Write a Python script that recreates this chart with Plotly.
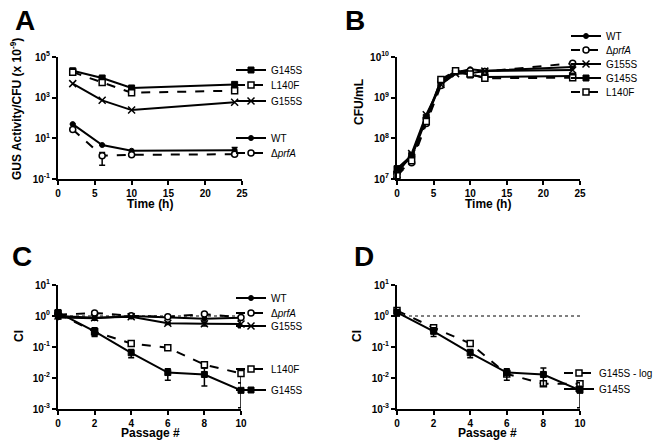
import plotly.graph_objects as go

W, H = 662, 443
FONT = "Liberation Sans, Arial, sans-serif"

# ---------------- data ----------------
# Panel A: GUS activity / CFU (x 10^-9)
A_TIME = [2, 6, 10, 24]
A_G145S = [2.1e4, 9.3e3, 3.0e3, 4.5e3]
A_L140F = [1.8e4, 5.6e3, 1.75e3, 2.2e3]
A_G155S = [4.9e3, 7.4e2, 2.45e2, 5.9e2]
A_WT = [50, 4.7, 2.45, 2.6]
A_DPRFA = [27, 1.4, 1.55, 1.65]
A_DPRFA_ERR_UP = [0, 0.6, 0, 0]
A_DPRFA_ERR_DN = [0, 0.93, 0, 0]
A_WT_ERR_UP = [0, 0, 0, 0.9]
A_WT_ERR_DN = [0, 0, 0, 0.5]

# Panel B: growth curves (CFU/mL)
B_TIME = [0, 2, 4, 6, 8, 10, 12, 24]
B_WT = [1.6e7, 3.5e7, 3.0e8, 2.3e9, 4.2e9, 5.0e9, 4.6e9, 5.7e9]
B_DPRFA = [1.4e7, 2.5e7, 2.3e8, 2.0e9, 4.4e9, 4.6e9, 4.4e9, 7.0e9]
B_G155S = [1.3e7, 4.2e7, 3.8e8, 2.1e9, 3.9e9, 4.0e9, 4.5e9, 4.8e9]
B_G145S = [1.8e7, 3.8e7, 3.3e8, 2.6e9, 4.5e9, 3.6e9, 3.2e9, 3.4e9]
B_L140F = [1.2e7, 2.8e7, 2.6e8, 2.8e9, 4.6e9, 3.8e9, 3.0e9, 3.1e9]

# Panel C: competitive index over passages
C_PASSAGE = [0, 2, 4, 6, 8, 10]
C_WT = [0.9, 0.85, 1.0, 0.92, 0.82, 0.88]
C_DPRFA = [1.1, 1.25, 1.02, 0.95, 1.15, 0.9]
C_G155S = [1.0, 0.88, 0.95, 0.58, 0.56, 0.55]
C_L140F = [1.2, 0.31, 0.13, 0.095, 0.027, 0.014]
C_G145S = [1.3, 0.32, 0.065, 0.015, 0.013, 0.004]
C_G145S_UP = [0.3, 0.1, 0.018, 0.005, 0.008, 0.003]
C_G145S_DN = [0.3, 0.1, 0.02, 0.0065, 0.0075, 0.0029]
C_L140F_UP = [0.2, 0.05, 0.01, 0.02, 0.004, 0.006]
C_L140F_DN = [0.2, 0.08, 0.01, 0.015, 0.006, 0.007]
C_G155S_UP = [0.2, 0.1, 0.05, 0.05, 0.08, 0.15]
C_G155S_DN = [0.2, 0.15, 0.05, 0.05, 0.08, 0.13]

# Panel D
D_PASSAGE = [0, 2, 4, 6, 8, 10]
D_G145S_LOG = [1.5, 0.42, 0.13, 0.0135, 0.0065, 0.0065]
D_G145S = [1.3, 0.32, 0.065, 0.015, 0.013, 0.004]
D_G145S_UP = [0.3, 0.1, 0.018, 0.005, 0.008, 0.003]
D_G145S_DN = [0.3, 0.1, 0.02, 0.0065, 0.0075, 0.0029]

REF_CI = 1.0

DPRFA_NAME = "Δ<i>prfA</i>"

# ---------------- styles ----------------
STYLE = {
    "WT": dict(symbol="circle", size=5, color="black", line=dict(color="black", width=1), dash="solid"),
    "dprfA": dict(symbol="circle", size=6, color="white", line=dict(color="black", width=1.5), dash="dash"),
    "G155S": dict(symbol="x-thin", size=7, color="black", line=dict(color="black", width=1.5), dash="solid"),
    "G145S": dict(symbol="square", size=6, color="black", line=dict(color="black", width=1), dash="solid"),
    "L140F": dict(symbol="square", size=6, color="white", line=dict(color="black", width=1.5), dash="dash"),
}

fig = go.Figure()
legend_layouts = {}
legend_counter = [0]

LEG_DX = 47   # px from legend left edge to legend text start
LEG_DY = 7    # px the legend item text sits below the anchor


def add(xref, yref, name, x, y, key, text_x, text_y, err_up=None, err_dn=None):
    legend_counter[0] += 1
    n = legend_counter[0]
    lname = "legend" if n == 1 else f"legend{n}"
    st = STYLE[key]
    err = None
    if err_up is not None:
        err = dict(type="data", array=err_up, arrayminus=err_dn, color="black", thickness=1.5, width=3)
    fig.add_trace(go.Scatter(
        x=x, y=y, name=name, mode="lines+markers",
        xaxis=xref, yaxis=yref,
        line=dict(color="black", width=2, dash=st["dash"]),
        marker=dict(symbol=st["symbol"], size=st["size"], color=st["color"], line=st["line"]),
        error_y=err, cliponaxis=False, legend=lname, showlegend=True,
    ))
    legend_layouts[lname] = dict(
        x=(text_x - LEG_DX) / W, xanchor="left", y=1 - (text_y - LEG_DY) / H, yanchor="middle",
        bgcolor="rgba(0,0,0,0)", borderwidth=0,
        font=dict(family=FONT, size=10, color="black"),
        itemwidth=30, tracegroupgap=0,
    )


# Panel A
AX_T = 270
add("x", "y", "G145S", A_TIME, A_G145S, "G145S", AX_T, 69)
add("x", "y", "L140F", A_TIME, A_L140F, "L140F", AX_T, 84)
add("x", "y", "G155S", A_TIME, A_G155S, "G155S", AX_T, 100)
add("x", "y", "WT", A_TIME, A_WT, "WT", AX_T, 137, A_WT_ERR_UP, A_WT_ERR_DN)
add("x", "y", DPRFA_NAME, A_TIME, A_DPRFA, "dprfA", AX_T, 152, A_DPRFA_ERR_UP, A_DPRFA_ERR_DN)

# Panel B
BX_T = 605
add("x2", "y2", "WT", B_TIME, B_WT, "WT", BX_T, 35)
add("x2", "y2", DPRFA_NAME, B_TIME, B_DPRFA, "dprfA", BX_T, 49)
add("x2", "y2", "G155S", B_TIME, B_G155S, "G155S", BX_T, 63)
add("x2", "y2", "G145S", B_TIME, B_G145S, "G145S", BX_T, 77)
add("x2", "y2", "L140F", B_TIME, B_L140F, "L140F", BX_T, 91)

# Panel C
CX_T = 270
add("x3", "y3", "WT", C_PASSAGE, C_WT, "WT", CX_T, 297)
add("x3", "y3", DPRFA_NAME, C_PASSAGE, C_DPRFA, "dprfA", CX_T, 312)
add("x3", "y3", "G155S", C_PASSAGE, C_G155S, "G155S", CX_T, 325, C_G155S_UP, C_G155S_DN)
add("x3", "y3", "L140F", C_PASSAGE, C_L140F, "L140F", CX_T, 368, C_L140F_UP, C_L140F_DN)
add("x3", "y3", "G145S", C_PASSAGE, C_G145S, "G145S", CX_T, 389, C_G145S_UP, C_G145S_DN)

# Panel D
DX_T = 598
add("x4", "y4", "G145S - log", D_PASSAGE, D_G145S_LOG, "L140F", DX_T, 372)
add("x4", "y4", "G145S", D_PASSAGE, D_G145S, "G145S", DX_T, 388, D_G145S_UP, D_G145S_DN)

# reference dotted lines at CI = 1
for xr, yr, xs in (("x3", "y3", C_PASSAGE), ("x4", "y4", D_PASSAGE)):
    fig.add_shape(type="line", xref=xr, yref=yr, x0=min(xs), x1=max(xs), y0=REF_CI, y1=REF_CI,
                  line=dict(color="black", width=1, dash="dot"), layer="below")


def sup(e):
    return f"10<sup>{e}</sup>"


TICKFONT = dict(family=FONT, size=10, color="black", weight="bold")
AX = dict(showgrid=False, zeroline=False, showline=True, linewidth=2, linecolor="black",
          ticks="outside", ticklen=4, tickwidth=2, tickcolor="black", tickfont=TICKFONT,
          automargin=False)


def px_x(a, b):
    return [a / W, b / W]


def px_y(top, bottom):
    return [1 - bottom / H, 1 - top / H]


def ann(text, cx, cy, size, angle=0):
    return dict(text=text, x=cx / W, y=1 - cy / H, xref="paper", yref="paper",
                xanchor="center", yanchor="middle", showarrow=False, textangle=angle,
                font=dict(family=FONT, size=size, color="black", weight="bold"))


layout = dict(
    width=W, height=H, margin=dict(l=0, r=0, t=0, b=0),
    paper_bgcolor="white", plot_bgcolor="white", showlegend=True,
    font=dict(family=FONT, color="black"),
    xaxis=dict(AX, domain=px_x(50, 234), range=[0, 25], tickvals=[0, 5, 10, 15, 20, 25], anchor="y"),
    yaxis=dict(AX, domain=px_y(49, 171), type="log", range=[-1, 5], anchor="x",
               tickvals=[0.1, 10, 1e3, 1e5], ticktext=[sup(-1), sup(1), sup(3), sup(5)]),
    xaxis2=dict(AX, domain=px_x(389, 572), range=[0, 25], tickvals=[0, 5, 10, 15, 20, 25], anchor="y2"),
    yaxis2=dict(AX, domain=px_y(49, 171), type="log", range=[7, 10], anchor="x2",
                tickvals=[1e7, 1e8, 1e9, 1e10], ticktext=[sup(7), sup(8), sup(9), sup(10)]),
    xaxis3=dict(AX, domain=px_x(50, 233), range=[0, 10], tickvals=[0, 2, 4, 6, 8, 10], anchor="y3"),
    yaxis3=dict(AX, domain=px_y(277, 401), type="log", range=[-3, 1], anchor="x3",
                tickvals=[1e-3, 1e-2, 1e-1, 1, 10], ticktext=[sup(-3), sup(-2), sup(-1), sup(0), sup(1)]),
    xaxis4=dict(AX, domain=px_x(389, 572), range=[0, 10], tickvals=[0, 2, 4, 6, 8, 10], anchor="y4"),
    yaxis4=dict(AX, domain=px_y(277, 401), type="log", range=[-3, 1], anchor="x4",
                tickvals=[1e-3, 1e-2, 1e-1, 1, 10], ticktext=[sup(-3), sup(-2), sup(-1), sup(0), sup(1)]),
    annotations=[
        ann("GUS Activity/CFU (x 10<sup>-9</sup>)", 8, 101, 12, -90),
        ann("CFU/mL", 351, 94, 12, -90),
        ann("CI", 11, 328, 12, -90),
        ann("CI", 349, 328, 12, -90),
        ann("Time (h)", 142, 196, 12),
        ann("Time (h)", 480, 196, 12),
        ann("Passage #", 142, 425, 12),
        ann("Passage #", 479, 425, 12),
        ann("A", 17, 12, 28),
        ann("B", 347, 12, 28),
        ann("C", 14, 248, 28),
        ann("D", 356, 248, 28),
    ],
)
layout.update(legend_layouts)
fig.update_layout(**layout)

fig.write_html("out.html")
